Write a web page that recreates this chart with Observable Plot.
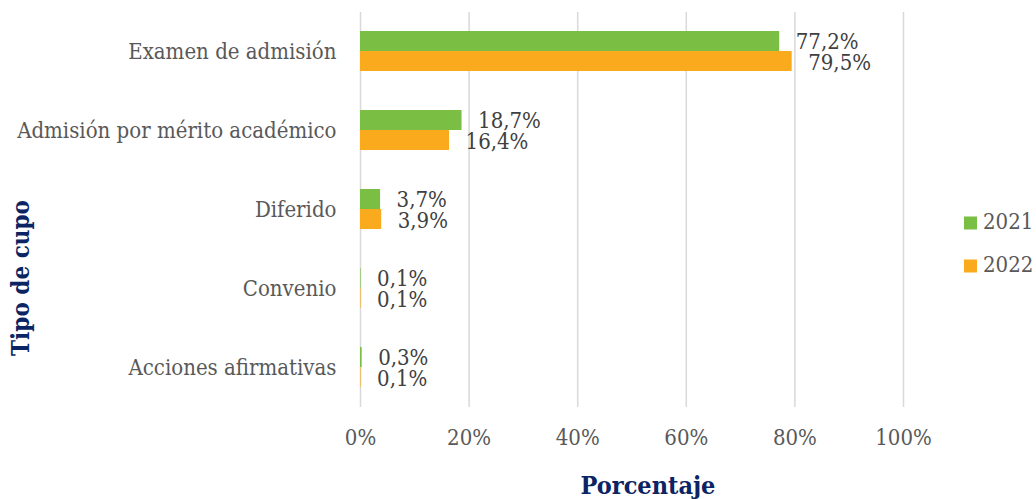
<!DOCTYPE html>
<html>
<head>
<meta charset="utf-8">
<script src="https://cdn.jsdelivr.net/npm/d3@7"></script>
<script src="https://cdn.jsdelivr.net/npm/@observablehq/plot@0.6"></script>
<style>
  html, body { margin: 0; padding: 0; background: #ffffff; }
  #chart { width: 1036px; height: 499px; }
  #chart svg text { font-stretch: condensed; }
</style>
</head>
<body>
<div id="chart"></div>
<script>
const categories = ["Examen de admisión", "Admisión por mérito académico", "Diferido", "Convenio", "Acciones afirmativas"];
const values2021 = [77.2, 18.7, 3.7, 0.1, 0.3];
const values2022 = [79.5, 16.4, 3.9, 0.1, 0.1];
const years = ["2021", "2022"];
const xTicks = [0, 20, 40, 60, 80, 100];
const xTitle = "Porcentaje";
const yTitle = "Tipo de cupo";

const colors = {"2021": "#7bbe44", "2022": "#faab1d"};
const font = "'DejaVu Serif Condensed', 'DejaVu Serif', serif";

const rows = [];
categories.forEach((c, i) => {
  rows.push({category: c, year: "2021", value: values2021[i]});
  rows.push({category: c, year: "2022", value: values2022[i]});
});
const r21 = rows.filter(d => d.year === "2021");
const r22 = rows.filter(d => d.year === "2022");
const fmt = v => v.toFixed(1).replace(".", ",") + "%";

const chart = Plot.plot({
  width: 1036,
  height: 499,
  marginLeft: 360,
  marginRight: 133,
  marginTop: 12,
  marginBottom: 92,
  style: {fontFamily: font, background: "#ffffff", overflow: "visible"},
  x: {domain: [0, 100], ticks: xTicks, tickFormat: d => d + "%", label: null},
  y: {domain: categories, paddingInner: 0.49, paddingOuter: 0.245, label: null},
  marks: [
    Plot.gridX(xTicks, {stroke: "#d9d9d9", strokeOpacity: 1, strokeWidth: 1.5}),
    Plot.axisX({ticks: xTicks, tickFormat: d => d + "%", tickSize: 0, tickPadding: 22, fontSize: 22, fill: "#595959", label: null}),
    Plot.axisY({tickSize: 0, tickPadding: 24, fontSize: 22, fill: "#595959", label: null}),
    Plot.barX(r21, {x: "value", y: "category", fill: colors["2021"], insetBottom: 20}),
    Plot.barX(r22, {x: "value", y: "category", fill: colors["2022"], insetTop: 20}),
    Plot.text(r21, {x: "value", y: "category", text: d => fmt(d.value), dx: 16, dy: -10, textAnchor: "start", fontSize: 22, fill: "#404040"}),
    Plot.text(r22, {x: "value", y: "category", text: d => fmt(d.value), dx: 16, dy: 11, textAnchor: "start", fontSize: 22, fill: "#404040"})
  ]
});

const svg = d3.select(chart);
svg.append("text")
  .attr("x", 648).attr("y", 487)
  .attr("text-anchor", "middle").attr("dominant-baseline", "middle")
  .attr("font-family", font).attr("font-weight", "bold").attr("font-size", 25)
  .attr("fill", "#0b2463").text(xTitle);
svg.append("text")
  .attr("transform", "translate(22,278) rotate(-90)")
  .attr("text-anchor", "middle").attr("dominant-baseline", "middle")
  .attr("font-family", font).attr("font-weight", "bold").attr("font-size", 24)
  .attr("fill", "#0b2463").text(yTitle);

const legY = [223, 266];
years.forEach((y, i) => {
  svg.append("rect").attr("x", 964).attr("y", legY[i] - 6.5).attr("width", 13).attr("height", 13).attr("fill", colors[y]);
  svg.append("text").attr("x", 983).attr("y", legY[i]).attr("text-anchor", "start").attr("dominant-baseline", "middle")
    .attr("font-family", font).attr("font-size", 22).attr("fill", "#595959").text(y);
});

document.getElementById("chart").appendChild(chart);
</script>
</body>
</html>
